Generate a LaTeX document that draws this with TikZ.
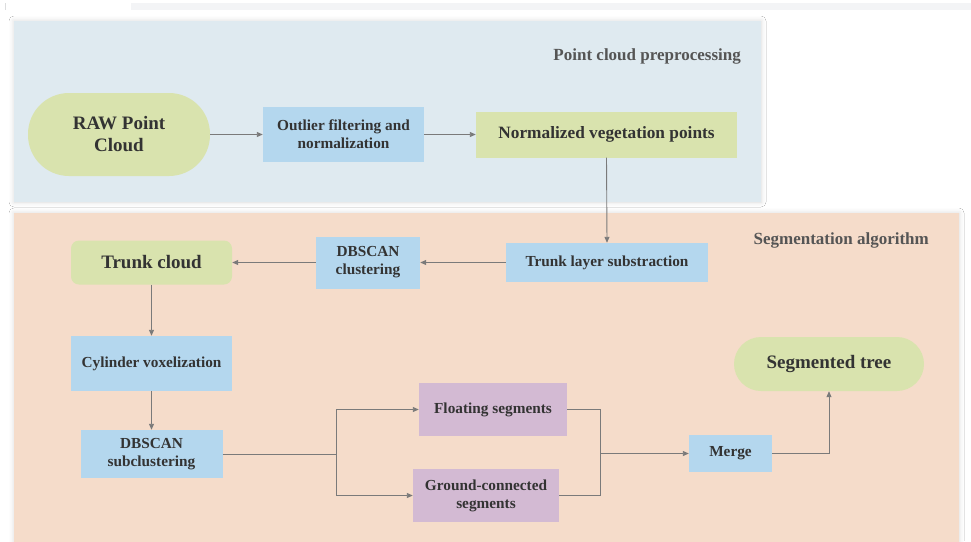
\documentclass[tikz,border=0pt]{standalone}
\usepackage{fontspec}
\setmainfont{Liberation Serif}
\usetikzlibrary{arrows.meta,shadows.blur}
\definecolor{panelblue}{HTML}{DFEAF0}
\definecolor{panelorange}{HTML}{F5DCCA}
\definecolor{boxgreen}{HTML}{D9E3AE}
\definecolor{boxblue}{HTML}{B4D7EE}
\definecolor{boxpurple}{HTML}{D3BAD3}
\definecolor{txt}{HTML}{333333}
\definecolor{lbl}{HTML}{555555}
\definecolor{conn}{HTML}{7A7A7A}
\definecolor{strip}{HTML}{F3F4F6}
\tikzset{
  panel/.style={blur shadow={shadow xshift=0pt,shadow yshift=0pt,shadow blur radius=5pt,shadow opacity=15}},
  base/.style={rectangle, inner sep=2pt, align=center, text=txt, font=\bfseries\fontsize{15.3}{18}\selectfont},
  bluebox/.style={base, fill=boxblue},
  greenbox/.style={base, fill=boxgreen},
  purplebox/.style={base, fill=boxpurple},
  bigtxt/.style={font=\bfseries\fontsize{19}{22}\selectfont},
  midtxt/.style={font=\bfseries\fontsize{17.3}{20}\selectfont},
  title/.style={anchor=east, inner sep=0pt, text=lbl, font=\bfseries\fontsize{17}{20}\selectfont},
  link/.style={draw=conn, line width=0.9pt, -{Triangle[length=6pt,width=5pt]}},
  plain/.style={draw=conn, line width=0.9pt}
}
\begin{document}
\begin{tikzpicture}[x=1pt,y=-1pt]
\useasboundingbox (0,0) rectangle (971,541);
\fill[white] (0,0) rectangle (971,541);
\fill[strip] (131,3) rectangle (971,10);
\draw[strip!80!gray, line width=0.6pt] (5,3) -- (5,10);
% panels
\fill[panelblue, panel] (14,21) rectangle (761,202);
\fill[panelorange, panel] (14,213) rectangle (959,545);
\node[title] (t1) at (741,56) {Point cloud preprocessing};
\node[title] (t2) at (929,240) {Segmentation algorithm};
% nodes
\node[greenbox, bigtxt, minimum width=182pt, minimum height=83pt, rounded corners=41pt] (raw) at (119,134.5) {RAW Point\\Cloud};
\node[bluebox, minimum width=161pt, minimum height=55pt] (out) at (343.5,134.5) {Outlier filtering and\\normalization};
\node[greenbox, midtxt, minimum width=261pt, minimum height=46pt] (norm) at (606.5,134.5) {Normalized vegetation points};
\node[bluebox, minimum width=202pt, minimum height=39pt] (trl) at (607,262.5) {Trunk layer substraction};
\node[bluebox, minimum width=104pt, minimum height=52pt] (dbc) at (368,262.5) {DBSCAN\\clustering};
\node[greenbox, bigtxt, minimum width=161pt, minimum height=44pt, rounded corners=8pt] (tc) at (151.5,262.5) {Trunk cloud};
\node[bluebox, minimum width=161pt, minimum height=55pt] (cyl) at (151.5,363.5) {Cylinder voxelization};
\node[bluebox, minimum width=142pt, minimum height=48pt] (dbs) at (151.5,454) {DBSCAN\\subclustering};
\node[purplebox, minimum width=148pt, minimum height=53pt] (flt) at (493,409.5) {Floating segments};
\node[purplebox, minimum width=146pt, minimum height=53pt] (gnd) at (486,495.5) {Ground-connected\\segments};
\node[bluebox, minimum width=83pt, minimum height=37pt] (mrg) at (730.5,453.5) {Merge};
\node[greenbox, bigtxt, minimum width=190pt, minimum height=54pt, rounded corners=27pt] (seg) at (829,364) {Segmented tree};
% junctions
\coordinate (br) at (336,454);
\coordinate (jn) at (600,453.5);
% connectors
\draw[link] (raw) -- (out);
\draw[link] (out) -- (norm);
\draw[link] (norm.south) -- (trl.north);
\draw[link] (trl) -- (dbc);
\draw[link] (dbc) -- (tc);
\draw[link] (tc) -- (cyl);
\draw[link] (cyl) -- (dbs);
\draw[plain] (dbs.east) -- (br);
\draw[link] (br) |- (flt.west);
\draw[link] (br) |- (gnd.west);
\draw[plain] (flt.east) -| (jn);
\draw[plain] (gnd.east) -| (jn);
\draw[link] (jn) -- (mrg.west);
\draw[link] (mrg.east) -| (seg.south);
\end{tikzpicture}
\end{document}
